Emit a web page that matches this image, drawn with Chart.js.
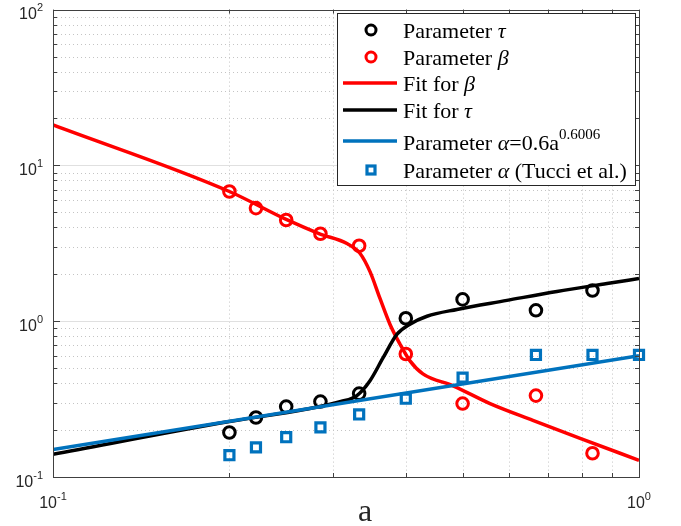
<!DOCTYPE html>
<html>
<head>
<meta charset="utf-8">
<script src="https://cdn.jsdelivr.net/npm/chart.js@4.4.1/dist/chart.umd.min.js"></script>
<style>
  html, body { margin: 0; padding: 0; background: #fff; }
  #wrap { width: 681px; height: 526px; }
</style>
</head>
<body>
<div id="wrap"><canvas id="chart" width="681" height="526"></canvas></div>
<script>
// values
const aValues = [0.2, 0.222, 0.25, 0.286, 0.333, 0.4, 0.5, 0.667, 0.833];
const tauValues = [0.193, 0.241, 0.283, 0.305, 0.343, 1.045, 1.38, 1.175, 1.575];
const betaValues = [6.8, 5.32, 4.46, 3.64, 3.05, 0.616, 0.296, 0.333, 0.142];

const tucciA = [0.2, 0.222, 0.25, 0.286, 0.333, 0.4, 0.5, 0.667, 0.833, 1.0];
const tucciAlpha = [0.138, 0.155, 0.18, 0.208, 0.252, 0.318, 0.434, 0.607, 0.607, 0.607];

const betaFitA = [0.1, 0.2, 0.25, 0.285, 0.318, 0.334, 0.3475, 0.3614, 0.3758, 0.3909, 0.4066, 0.4278, 0.4816, 0.5569, 0.659, 0.7935, 1.0];
const betaFit = [18.2, 6.8, 4.5, 3.64, 3.14, 2.73, 2.08, 1.40, 0.957, 0.714, 0.556, 0.459, 0.385, 0.296, 0.231, 0.177, 0.128];

const tauFitA = [0.1, 0.2, 0.27, 0.31, 0.33, 0.3475, 0.3657, 0.3865, 0.4066, 0.4347, 0.489, 0.595, 0.7244, 0.882, 1.0];
const tauFit = [0.14, 0.227, 0.272, 0.305, 0.333, 0.415, 0.581, 0.826, 0.957, 1.076, 1.19, 1.36, 1.553, 1.746, 1.88];

const alphaFitA = [0.1, 1.0];
const alphaFit = [0.15, 0.6];

const xTicks = [0.1, 0.2, 0.3, 0.4, 0.5, 0.6, 0.7, 0.8, 0.9, 1];
const yTicks = [0.1, 0.2, 0.3, 0.4, 0.5, 0.6, 0.7, 0.8, 0.9,
    1, 2, 3, 4, 5, 6, 7, 8, 9,
    10, 20, 30, 40, 50, 60, 70, 80, 90, 100];

const RED = '#ff0000';
const BLACK = '#000000';
const BLUE = '#0072bd';
const AXIS = '#404040';
const SANS = "'Liberation Sans', Arial, sans-serif";
const SERIF = "'Liberation Serif', 'Times New Roman', serif";


function toPoints(xs, ys) {
    return xs.map((x, i) => ({ x, y: ys[i] }));
}

function isDecade(v) {
    const l = Math.log10(v);
    return Math.abs(l - Math.round(l)) < 1e-9;
}

function drawRich(ctx, x, baseline, parts) {
    for (const p of parts) {
        ctx.font = p.font;
        ctx.fillText(p.text, x, baseline + (p.dy || 0));
        x += ctx.measureText(p.text).width;
    }
}

// 10 with a superscript exponent, centred on (cx) or right-aligned to (rx)
function powerLabel(ctx, exp, baseline, cx, rx) {
    ctx.font = '16px ' + SANS;
    const wBase = ctx.measureText('10').width;
    ctx.font = '11px ' + SANS;
    const wExp = ctx.measureText(exp).width;
    const total = wBase + wExp;
    const left = rx !== undefined ? rx - total : cx - total / 2;
    ctx.fillStyle = '#262626';
    drawRich(ctx, left, baseline, [
        { text: '10', font: '16px ' + SANS },
        { text: exp, font: '11px ' + SANS, dy: -8 }
    ]);
}

const legendItems = [
    { kind: 'circle', color: BLACK, parts: [['Parameter ', ''], ['τ', 'italic ']] },
    { kind: 'circle', color: RED, parts: [['Parameter ', ''], ['β', 'italic ']] },
    { kind: 'line', color: RED, parts: [['Fit for ', ''], ['β', 'italic ']] },
    { kind: 'line', color: BLACK, parts: [['Fit for ', ''], ['τ', 'italic ']] },
    { kind: 'line', color: BLUE, sup: true, parts: [['Parameter ', ''], ['α', 'italic '], ['=0.6a', '']] },
    { kind: 'square', color: BLUE, parts: [['Parameter ', ''], ['α', 'italic '], [' (Tucci et al.)', '']] }
];
const legendRows = [30, 57, 83, 110, 141, 170];


const framePlugin = {
    id: 'frame',
    beforeDatasetsDraw(chart) {
        const { ctx, chartArea: ca, scales: { x, y } } = chart;
        ctx.save();
        ctx.lineWidth = 1;

        // dotted minor grid
        ctx.strokeStyle = '#c4c4c4';
        ctx.setLineDash([1, 3]);
        ctx.beginPath();
        for (const v of xTicks) {
            if (isDecade(v)) continue;
            const px = Math.round(x.getPixelForValue(v)) + 0.5;
            ctx.moveTo(px, ca.top);
            ctx.lineTo(px, ca.bottom);
        }
        for (const v of yTicks) {
            if (isDecade(v)) continue;
            const py = Math.round(y.getPixelForValue(v)) + 0.5;
            ctx.moveTo(ca.left, py);
            ctx.lineTo(ca.right, py);
        }
        ctx.stroke();

        // solid major grid
        ctx.setLineDash([]);
        ctx.strokeStyle = '#e0e0e0';
        ctx.beginPath();
        for (const v of yTicks) {
            if (!isDecade(v) || v === y.min || v === y.max) continue;
            const py = Math.round(y.getPixelForValue(v)) + 0.5;
            ctx.moveTo(ca.left, py);
            ctx.lineTo(ca.right, py);
        }
        ctx.stroke();
        ctx.restore();
    },
    afterDatasetsDraw(chart) {
        const { ctx, chartArea: ca, scales: { x, y } } = chart;
        ctx.save();

        // box
        ctx.strokeStyle = AXIS;
        ctx.lineWidth = 1;
        ctx.strokeRect(Math.round(ca.left) + 0.5, Math.round(ca.top) + 0.5,
            Math.round(ca.right - ca.left), Math.round(ca.bottom - ca.top));

        // inward tick marks on all four sides
        ctx.beginPath();
        for (const v of xTicks) {
            const px = Math.round(x.getPixelForValue(v)) + 0.5;
            const len = isDecade(v) ? 7 : 4;
            ctx.moveTo(px, ca.bottom);
            ctx.lineTo(px, ca.bottom - len);
            ctx.moveTo(px, ca.top);
            ctx.lineTo(px, ca.top + len);
        }
        for (const v of yTicks) {
            const py = Math.round(y.getPixelForValue(v)) + 0.5;
            const len = isDecade(v) ? 7 : 4;
            ctx.moveTo(ca.left, py);
            ctx.lineTo(ca.left + len, py);
            ctx.moveTo(ca.right, py);
            ctx.lineTo(ca.right - len, py);
        }
        ctx.stroke();

        // tick labels
        for (const v of xTicks) {
            if (!isDecade(v)) continue;
            powerLabel(ctx, String(Math.round(Math.log10(v))), 508, x.getPixelForValue(v));
        }
        for (const v of yTicks) {
            if (!isDecade(v)) continue;
            const py = y.getPixelForValue(v);
            powerLabel(ctx, String(Math.round(Math.log10(v))), py + 9.5, undefined, 43);
        }

        // axis title
        ctx.fillStyle = '#262626';
        ctx.font = '32px ' + SERIF;
        ctx.textAlign = 'center';
        ctx.fillText('a', 365, 521);
        ctx.textAlign = 'left';

        // legend
        ctx.fillStyle = '#ffffff';
        ctx.fillRect(337.5, 13.5, 298, 172);
        ctx.strokeStyle = '#262626';
        ctx.lineWidth = 1;
        ctx.strokeRect(337.5, 13.5, 298, 172);

        legendItems.forEach((item, i) => {
            const ry = legendRows[i];
            ctx.strokeStyle = item.color;
            if (item.kind === 'line') {
                ctx.lineWidth = 3.5;
                ctx.beginPath();
                ctx.moveTo(343, ry);
                ctx.lineTo(397, ry);
                ctx.stroke();
            } else if (item.kind === 'circle') {
                ctx.lineWidth = 3;
                ctx.beginPath();
                ctx.arc(371, ry, 5, 0, Math.PI * 2);
                ctx.stroke();
            } else {
                ctx.lineWidth = 3.2;
                ctx.strokeRect(367, ry - 4, 8, 8);
            }
            ctx.fillStyle = '#000000';
            const parts = item.parts.map(([t, style]) => ({ text: t, font: style + '22px ' + SERIF }));
            if (item.sup) {
                parts.push({ text: '0.6006', font: '15px ' + SERIF, dy: -11 });
            }
            drawRich(ctx, 403, ry + (item.sup ? 9 : 7.5), parts);
        });

        ctx.restore();
    }
};


const datasets = [
    {
        label: 'Parameter τ',
        data: toPoints(aValues, tauValues),
        showLine: false,
        pointStyle: 'circle',
        pointRadius: 5.8,
        pointBorderWidth: 3,
        pointBorderColor: BLACK,
        pointBackgroundColor: 'rgba(0,0,0,0)',
        clip: false,
        order: 6
    },
    {
        label: 'Parameter β',
        data: toPoints(aValues, betaValues),
        showLine: false,
        pointStyle: 'circle',
        pointRadius: 5.8,
        pointBorderWidth: 3,
        pointBorderColor: RED,
        pointBackgroundColor: 'rgba(0,0,0,0)',
        clip: false,
        order: 5
    },
    {
        label: 'Fit for β',
        data: toPoints(betaFitA, betaFit),
        showLine: true,
        borderColor: RED,
        borderWidth: 3.5,
        pointRadius: 0,
        cubicInterpolationMode: 'monotone',
        order: 4
    },
    {
        label: 'Fit for τ',
        data: toPoints(tauFitA, tauFit),
        showLine: true,
        borderColor: BLACK,
        borderWidth: 3.5,
        pointRadius: 0,
        cubicInterpolationMode: 'monotone',
        order: 3
    },
    {
        label: 'Parameter α=0.6a^0.6006',
        data: toPoints(alphaFitA, alphaFit),
        showLine: true,
        borderColor: BLUE,
        borderWidth: 3.5,
        pointRadius: 0,
        order: 2
    },
    {
        label: 'Parameter α (Tucci et al.)',
        data: toPoints(tucciA, tucciAlpha),
        showLine: false,
        pointStyle: 'rect',
        pointRadius: 6.4,
        pointBorderWidth: 3.2,
        pointBorderColor: BLUE,
        pointBackgroundColor: 'rgba(0,0,0,0)',
        clip: false,
        order: 1
    }
];


new Chart(document.getElementById('chart'), {
    type: 'scatter',
    data: { datasets },
    options: {
        responsive: false,
        animation: false,
        events: [],
        layout: { padding: { top: 6, right: 42, left: 0, bottom: 0 } },
        plugins: {
            legend: { display: false },
            tooltip: { enabled: false }
        },
        scales: {
            x: {
                type: 'logarithmic',
                min: 0.1,
                max: 1,
                afterBuildTicks: (scale) => { scale.ticks = xTicks.map((v) => ({ value: v })); },
                afterFit: (scale) => { scale.height = 49; },
                ticks: { display: false },
                grid: { display: false },
                border: { display: false }
            },
            y: {
                type: 'logarithmic',
                min: 0.1,
                max: 100,
                afterBuildTicks: (scale) => { scale.ticks = yTicks.map((v) => ({ value: v })); },
                afterFit: (scale) => { scale.width = 53; },
                ticks: { display: false },
                grid: { display: false },
                border: { display: false }
            }
        }
    },
    plugins: [framePlugin]
});
</script>
</body>
</html>
